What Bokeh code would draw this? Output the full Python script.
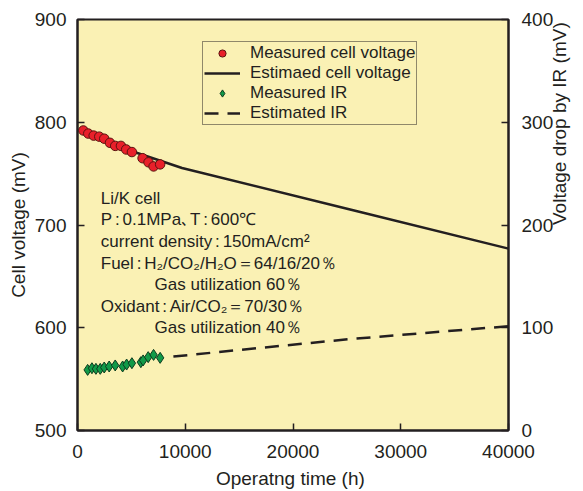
import math
from bokeh.plotting import figure
from bokeh.models import Range1d, LinearAxis, Legend, LegendItem, Label, FixedTicker
from bokeh.embed import file_html
from bokeh.resources import INLINE

# ---------------- data ----------------
meas_v_time = [540, 1000, 1500, 2020, 2480, 3010, 3500, 4030, 4520, 5050, 6040, 6590, 7060, 7670]
meas_v = [792, 789, 787, 786, 784, 780, 777, 777, 773.5, 771, 765, 761, 757, 759]

est_v_time = [5000, 7000, 9700, 25300, 40000]
est_v = [772, 765, 755.5, 715, 677]

meas_ir_time = [940, 1340, 1710, 2110, 2480, 2940, 3500, 4190, 4560, 5050, 5880, 6090, 6560, 7060, 7670]
meas_ir = [59, 60.6, 60, 60, 61.3, 62.3, 63.3, 62.3, 64.2, 65.5, 66.5, 68.2, 71.4, 73.6, 70.7]

est_ir_time = [8900, 25300, 40000]
est_ir = [72, 89, 101.5]

x_ticks = [0, 10000, 20000, 30000, 40000]
y_ticks = [500, 600, 700, 800, 900]
y2_ticks = [0, 100, 200, 300, 400]

x_title = "Operatng time  (h)"
y_title = "Cell voltage (mV)"
y2_title = "Voltage drop by IR (mV)"

legend_labels = ["Measured cell voltage", "Estimaed cell voltage", "Measured IR", "Estimated IR"]

C = "\u2006:\u2006"
note_lines = [
    "Li/K cell",
    "P" + C + "0.1MPa､T" + C + "600℃",
    "current density" + C + "150mA/cm²",
    "Fuel" + C + "H₂/CO₂/H₂O＝64/16/20％",
    "Gas utilization 60％",
    "Oxidant" + C + "Air/CO₂＝70/30％",
    "Gas utilization 40％",
]
note_indent = [False, False, False, False, True, False, True]

# ---------------- styling ----------------
FONT = "Liberation Sans"
INK = "#231f20"
BG = "#faf1b4"

p = figure(width=583, height=491,
           x_range=Range1d(0, 40000), y_range=Range1d(500, 900),
           output_backend="svg", toolbar_location=None,
           min_border_left=77, min_border_right=74,
           min_border_top=19, min_border_bottom=60)
p.extra_y_ranges = {"ir": Range1d(0, 400)}
p.background_fill_color = BG
p.border_fill_color = "white"
p.outline_line_color = INK
p.outline_line_width = 2
p.xgrid.visible = False
p.ygrid.visible = False

right_axis = LinearAxis(y_range_name="ir")
p.add_layout(right_axis, "right")

p.xaxis.ticker = FixedTicker(ticks=x_ticks)
p.yaxis[0].ticker = FixedTicker(ticks=y_ticks)
right_axis.ticker = FixedTicker(ticks=y2_ticks)

p.xaxis.axis_label = x_title
p.yaxis[0].axis_label = y_title
right_axis.axis_label = y2_title

for ax in [p.xaxis[0], p.yaxis[0], right_axis]:
    ax.axis_line_color = INK
    ax.axis_line_width = 2
    ax.major_tick_in = 7
    ax.major_tick_out = 0
    ax.minor_tick_in = 0
    ax.minor_tick_out = 0
    ax.major_tick_line_color = INK
    ax.major_tick_line_width = 1.5
    ax.major_label_text_font = FONT
    ax.major_label_text_font_size = "19px"
    ax.major_label_text_color = INK
    ax.axis_label_text_font = FONT
    ax.axis_label_text_font_size = "19px"
    ax.axis_label_text_font_style = "normal"
    ax.axis_label_text_color = INK

p.xaxis.major_label_standoff = 14
p.xaxis.axis_label_standoff = 7
p.yaxis[0].major_label_standoff = 11
p.yaxis[0].axis_label_standoff = 3
right_axis.major_label_standoff = 13
# read bottom-to-top like the left title
right_axis.axis_label_orientation = math.pi / 2
right_axis.axis_label_standoff = 3

# ---------------- glyphs ----------------
r_est_v = p.line(est_v_time, est_v, line_color=INK, line_width=2.5)
r_est_ir = p.line(est_ir_time, est_ir, line_color=INK, line_width=2.5,
                  line_dash="14 9", y_range_name="ir")
r_meas_v = p.scatter(meas_v_time, meas_v, marker="circle", size=9.5,
                     fill_color="#e8202a", line_color="#5a1410", line_width=1)
r_meas_ir = p.scatter(meas_ir_time, meas_ir, marker="diamond",
                      size=11, fill_color="#119a48", line_color="#0b3b1e",
                      line_width=1, y_range_name="ir")

legend = Legend(items=[
    LegendItem(label=legend_labels[0], renderers=[r_meas_v]),
    LegendItem(label=legend_labels[1], renderers=[r_est_v]),
    LegendItem(label=legend_labels[2], renderers=[r_meas_ir]),
    LegendItem(label=legend_labels[3], renderers=[r_est_ir]),
])
legend.location = (125, 305)
legend.background_fill_color = BG
legend.background_fill_alpha = 1
legend.border_line_color = INK
legend.border_line_width = 1.5
legend.label_text_font = FONT
legend.label_text_font_size = "17px"
legend.label_text_color = INK
legend.label_height = 18
legend.glyph_height = 18
legend.glyph_width = 36
legend.label_standoff = 10
legend.spacing = 0
legend.padding = 1
legend.margin = 0
p.add_layout(legend)

# ---------------- annotation ----------------
note_x = 2160
note_x_indent = 7150
note_top = 726.0
note_step = 21.0
for i, (txt, ind) in enumerate(zip(note_lines, note_indent)):
    p.add_layout(Label(x=note_x_indent if ind else note_x, y=note_top - i * note_step,
                       text=txt, text_font=FONT, text_font_size="17px",
                       text_color=INK, text_baseline="alphabetic", text_align="left"))

open("out.html", "w").write(file_html(p, INLINE))
